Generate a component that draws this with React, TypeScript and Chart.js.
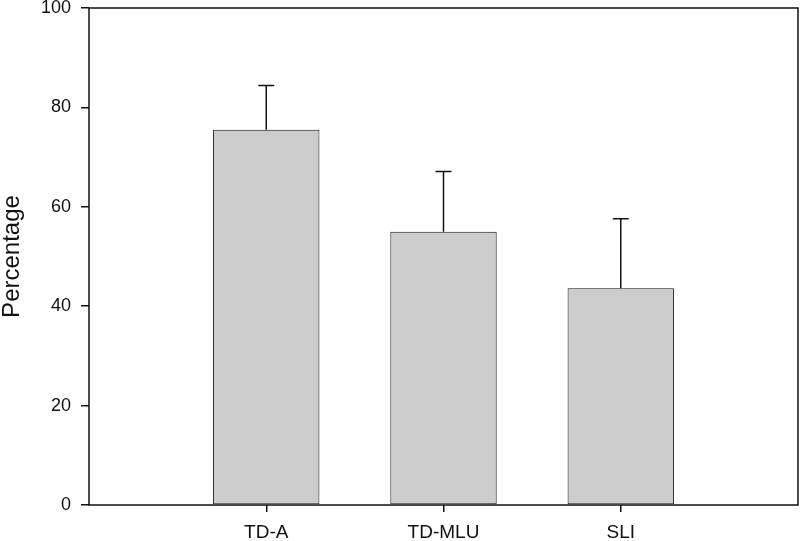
import React, { useEffect, useRef } from "react";
import { Chart, registerables } from "chart.js";

Chart.register(...registerables);

const categories: string[] = ["TD-A", "TD-MLU", "SLI"];
const means: number[] = [75.5, 55.0, 43.6];
const errors: number[] = [8.9, 12.1, 14.0];
const yTicks: number[] = [0, 20, 40, 60, 80, 100];

const labels = ["", ...categories, ""];
const values: (number | null)[] = [null, ...means, null];
const errs: (number | null)[] = [null, ...errors, null];

const FONT = "'Liberation Sans', Arial, Helvetica, sans-serif";

const errorBarPlugin = {
  id: "errorBars",
  afterDatasetsDraw(chart: any) {
    const ctx = chart.ctx;
    const meta = chart.getDatasetMeta(0);
    const y = chart.scales.y;
    ctx.save();
    ctx.strokeStyle = "#111";
    ctx.lineWidth = 1.5;
    meta.data.forEach((bar: any, i: number) => {
      const v = values[i];
      const e = errs[i];
      if (v == null || e == null) return;
      const top = y.getPixelForValue(v + e);
      const base = y.getPixelForValue(v);
      const half = bar.width * 0.075;
      ctx.beginPath();
      ctx.moveTo(bar.x, base);
      ctx.lineTo(bar.x, top);
      ctx.moveTo(bar.x - half, top);
      ctx.lineTo(bar.x + half, top);
      ctx.stroke();
    });
    ctx.restore();
  },
};

const framePlugin = {
  id: "frame",
  afterDatasetsDraw(chart: any) {
    const { ctx, chartArea } = chart;
    ctx.save();
    ctx.strokeStyle = "#111";
    ctx.lineWidth = 1.5;
    ctx.strokeRect(
      chartArea.left,
      chartArea.top,
      chartArea.right - chartArea.left,
      chartArea.bottom - chartArea.top
    );
    ctx.restore();
  },
};

export default function App() {
  const ref = useRef<HTMLCanvasElement | null>(null);

  useEffect(() => {
    if (!ref.current) return;
    const chart = new Chart(ref.current, {
      type: "bar",
      data: {
        labels,
        datasets: [
          {
            data: values,
            backgroundColor: "#cccccc",
            borderColor: "#111",
            borderWidth: 1,
            borderSkipped: false,
            barPercentage: 0.6,
            categoryPercentage: 1,
          },
        ],
      },
      options: {
        responsive: false,
        animation: false,
        layout: { padding: { top: 8, right: 2, left: 0, bottom: 0 } },
        plugins: {
          legend: { display: false },
          tooltip: { enabled: false },
        },
        scales: {
          x: {
            offset: false,
            grid: {
              offset: false,
              drawOnChartArea: false,
              drawTicks: true,
              tickLength: 7,
              lineWidth: 1.5,
              color: (c: any) =>
                c.index === 0 || c.index === labels.length - 1 ? "rgba(0,0,0,0)" : "#111",
            },
            border: { display: false },
            ticks: {
              color: "#111",
              font: { family: FONT, size: 19 },
              padding: 9,
              maxRotation: 0,
              autoSkip: false,
            },
            afterFit(scale: any) {
              scale.height = 36;
              scale.paddingLeft = 0;
              scale.paddingRight = 0;
            },
          },
          y: {
            min: 0,
            max: 100,
            afterBuildTicks(scale: any) {
              scale.ticks = yTicks.map((v) => ({ value: v }));
            },
            grid: {
              drawOnChartArea: false,
              drawTicks: true,
              tickLength: 8,
              lineWidth: 1.5,
              color: "#111",
            },
            border: { display: false },
            ticks: {
              color: "#111",
              font: { family: FONT, size: 18 },
              padding: 10,
            },
            title: {
              display: true,
              text: "Percentage",
              color: "#111",
              font: { family: FONT, size: 24 },
              padding: { top: -2, bottom: 0 },
            },
            afterFit(scale: any) {
              scale.width = 89;
              scale.paddingTop = 0;
              scale.paddingBottom = 0;
            },
          },
        },
      },
      plugins: [errorBarPlugin, framePlugin],
    });
    return () => chart.destroy();
  }, []);

  return (
    <div style={{ position: "absolute", left: 0, top: 0, width: 800, height: 541, background: "#fff" }}>
      <canvas ref={ref} width={800} height={541} style={{ width: 800, height: 541 }} />
    </div>
  );
}
